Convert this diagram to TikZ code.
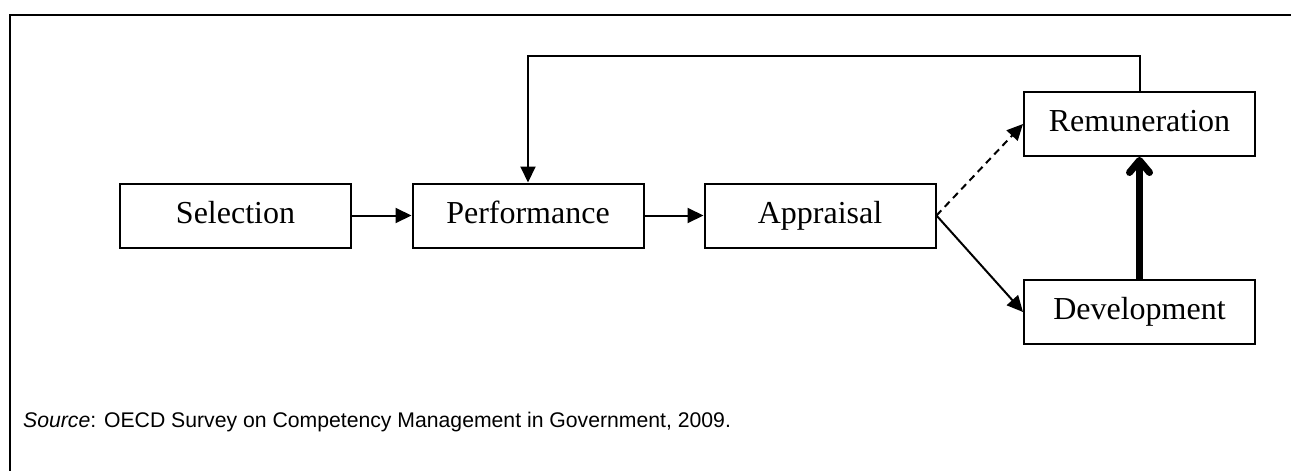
\documentclass[tikz,border=0pt]{standalone}
\usepackage{fontspec}
\setmainfont{Liberation Serif}
\setsansfont{Liberation Sans}
\usetikzlibrary{arrows.meta}
\tikzset{
  procbox/.style={draw, line width=2pt, minimum width=231pt, minimum height=64pt,
    inner sep=0pt, font=\fontsize{32}{36}\selectfont, text height=22pt, text depth=7pt},
  flow/.style={line width=2pt, -{Triangle[length=16pt,width=15pt]}},
  dflow/.style={flow, dash pattern=on 7pt off 5pt},
  bigflow/.style={line width=7pt, -{Straight Barb[length=12pt,width=20pt,round]}},
  frameline/.style={line width=2.5pt}
}
\begin{document}
\begin{tikzpicture}[x=1pt, y=-1pt]
\useasboundingbox (0,0) rectangle (1291,471);
\clip (0,0) rectangle (1291,471);
\draw[frameline] (10,480) -- (10,15) -- (1300,15);
\node[procbox] (sel) at (235.5,215.5) {Selection};
\node[procbox] (perf) at (528,215.5) {Performance};
\node[procbox] (app) at (820,215.5) {Appraisal};
\node[procbox] (rem) at (1139.5,124) {Remuneration};
\node[procbox] (dev) at (1139.5,312) {Development};
\coordinate (loopR) at (1139.5,56);
\coordinate (loopL) at (528,56);
\draw[flow] (sel) -- (perf);
\draw[flow] (perf) -- (app);
\draw[dflow] (app.east) -- (rem.west);
\draw[flow] (app.east) -- (dev.west);
\draw[flow] (rem.north) -- (loopR) -- (loopL) -- (perf.north);
\draw[bigflow] (dev.north) -- (rem.south);
\node[anchor=base west, inner sep=0pt, font=\sffamily\fontsize{21.2}{24}\selectfont] (src) at (23,427)
  {\textit{Source}: OECD Survey on Competency Management in Government, 2009.};
\end{tikzpicture}
\end{document}
